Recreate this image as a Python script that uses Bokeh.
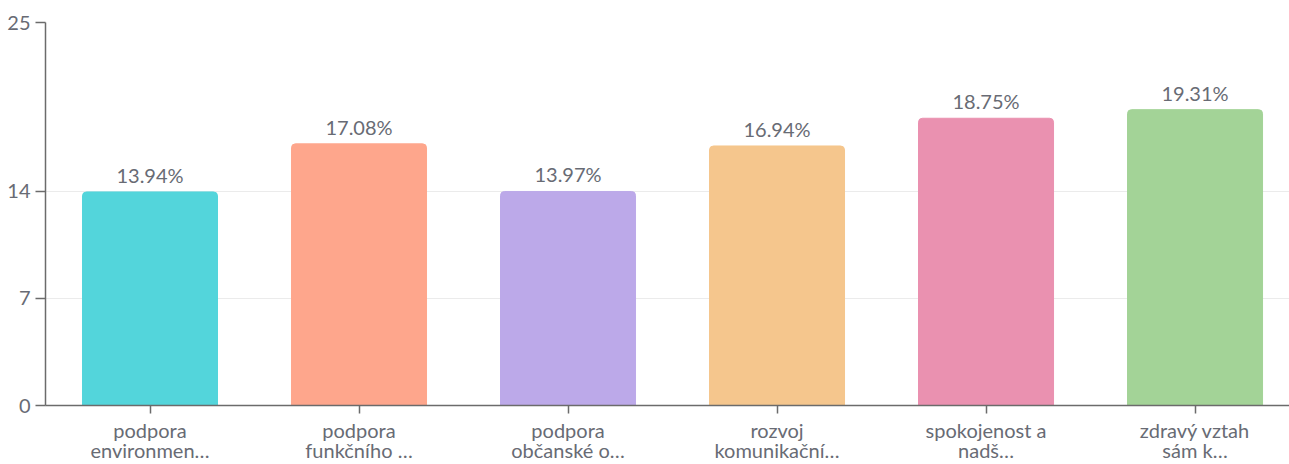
from bokeh.plotting import figure
from bokeh.models import Range1d, FixedTicker, ColumnDataSource
from bokeh.core.properties import value
from bokeh.embed import file_html
from bokeh.resources import INLINE

categories = [
    "podpora\nenvironmen…",
    "podpora\nfunkčního …",
    "podpora\nobčanské o…",
    "rozvoj\nkomunikační…",
    "spokojenost a\nnadš…",
    "zdravý vztah\nsám k…",
]
values = [13.94, 17.08, 13.97, 16.94, 18.75, 19.31]
colors = ["#53D5DB", "#FEA68C", "#BCA9E9", "#F5C68D", "#EA91B0", "#A3D397"]
y_ticks = [0, 7, 14, 25]

FONT = "Lato"
TEXT_COLOR = "#686b74"
AXIS_COLOR = "#6b6b6b"

x = [i + 0.5 for i in range(len(categories))]
labels = [f"{v:.2f}%" for v in values]
src = ColumnDataSource(dict(x=x, top=values, color=colors, label=labels))

p = figure(width=1289, height=464,
           x_range=Range1d(0, 5.952), y_range=Range1d(0, 25),
           output_backend="svg", toolbar_location=None,
           min_border_left=45, min_border_right=0,
           min_border_top=22, min_border_bottom=59)
p.outline_line_color = None

p.vbar(x="x", top="top", width=0.646, color="color", source=src,
       border_radius=(4, 4, 0, 0))
p.text(x="x", y="top", text="label", source=src,
       text_align="center", text_baseline="bottom", y_offset=-5,
       text_font=value(FONT), text_font_size="20px", text_color=TEXT_COLOR)

p.xgrid.visible = False
p.ygrid.ticker = FixedTicker(ticks=[7, 14, 25])
p.ygrid.grid_line_color = "#ebebeb"
p.ygrid.grid_line_width = 1

p.yaxis.ticker = FixedTicker(ticks=y_ticks)
p.xaxis.ticker = FixedTicker(ticks=x)
p.xaxis.major_label_overrides = {xi: c for xi, c in zip(x, categories)}

for ax in (p.xaxis, p.yaxis):
    ax.axis_line_color = AXIS_COLOR
    ax.axis_line_width = 1.5
    ax.major_tick_line_color = AXIS_COLOR
    ax.major_tick_line_width = 1.5
    ax.minor_tick_line_color = None
    ax.major_tick_in = 0
    ax.major_label_text_font = FONT
    ax.major_label_text_color = TEXT_COLOR

p.yaxis.major_label_text_font_size = "20px"
p.xaxis.major_label_text_font_size = "20px"
p.yaxis.major_tick_out = 10
p.yaxis.major_label_standoff = 5
p.xaxis.major_tick_out = 8
p.xaxis.major_label_standoff = 4
p.xaxis.major_label_text_line_height = 0.85

open("out.html", "w").write(file_html(p, INLINE))
